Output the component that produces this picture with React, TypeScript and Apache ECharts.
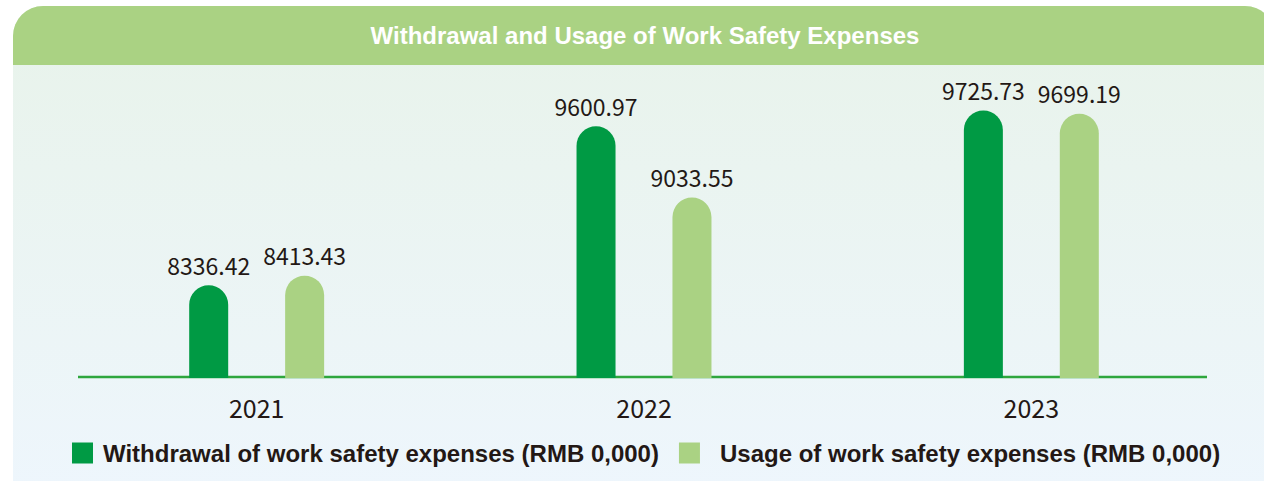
import React, { useEffect, useRef } from "react";
import * as echarts from "echarts";

const categories = ["2021", "2022", "2023"];
const withdrawal = [8336.42, 9600.97, 9725.73];
const usage = [8413.43, 9033.55, 9699.19];
const seriesNames = [
  "Withdrawal of work safety expenses (RMB 0,000)",
  "Usage of work safety expenses (RMB 0,000)",
];
const titleText = "Withdrawal and Usage of Work Safety Expenses";

const DARK = "#231815";
const GREEN = "#009a44";
const LIGHT = "#aad283";

export default function App() {
  const ref = useRef<HTMLDivElement>(null);
  useEffect(() => {
    if (!ref.current) return;
    const chart = echarts.init(ref.current, undefined, { renderer: "svg" });
    const labelStyle = {
      show: true,
      position: "top" as const,
      distance: 9,
      color: DARK,
      fontSize: 23,
      fontFamily: "Noto Sans CJK SC",
    };
    chart.setOption({
      animation: false,
      backgroundColor: "#ffffff",
      title: {
        text: titleText,
        left: 640,
        top: 18,
        textAlign: "center",
        textStyle: {
          color: "#ffffff",
          fontSize: 24,
          fontWeight: "bold",
          fontFamily: "Liberation Sans",
        },
      },
      graphic: [
        {
          type: "rect",
          z: -10,
          shape: { x: 13, y: 6, width: 1262, height: 500, r: [30, 30, 0, 0] },
          style: {
            fill: new echarts.graphic.LinearGradient(0, 0, 0, 1, [
              { offset: 0, color: "#e8f3ea" },
              { offset: 1, color: "#eef6fd" },
            ]),
          },
        },
        {
          type: "rect",
          z: -9,
          shape: { x: 13, y: 6, width: 1262, height: 59, r: [30, 30, 0, 0] },
          style: { fill: LIGHT },
        },
        {
          type: "line",
          z: -8,
          shape: { x1: 78, y1: 377, x2: 1207, y2: 377 },
          style: { stroke: "#2ea63d", lineWidth: 2.5 },
        },
      ],
      legend: {
        left: 67,
        top: 436,
        itemWidth: 21,
        itemHeight: 21,
        itemGap: 20,
        icon: "rect",
        data: [
          { name: seriesNames[0] },
          { name: seriesNames[1], textStyle: { padding: [0, 0, 0, 15] } },
        ],
        textStyle: {
          color: DARK,
          fontSize: 24,
          fontWeight: "bold",
          fontFamily: "Liberation Sans",
          padding: [0, 0, 0, 5],
        },
      },
      grid: { left: 63, right: 39, top: 76, bottom: 481 - 378 },
      xAxis: {
        type: "category",
        data: categories,
        axisLine: { show: false },
        axisTick: { show: false },
        axisLabel: {
          color: DARK,
          fontSize: 25,
          fontFamily: "Noto Sans CJK SC",
          margin: 16,
        },
      },
      yAxis: {
        type: "value",
        min: 7600,
        max: 10000,
        show: false,
        splitLine: { show: false },
      },
      series: [
        {
          name: seriesNames[0],
          type: "bar",
          data: withdrawal,
          barWidth: 39,
          barGap: "146%",
          itemStyle: { color: GREEN, borderRadius: [20, 20, 0, 0] },
          label: labelStyle,
        },
        {
          name: seriesNames[1],
          type: "bar",
          data: usage,
          barWidth: 39,
          itemStyle: { color: LIGHT, borderRadius: [20, 20, 0, 0] },
          label: labelStyle,
        },
      ],
    });
    return () => chart.dispose();
  }, []);
  return (
    <div
      ref={ref}
      style={{ position: "fixed", left: 0, top: 0, width: 1264, height: 481 }}
    />
  );
}
